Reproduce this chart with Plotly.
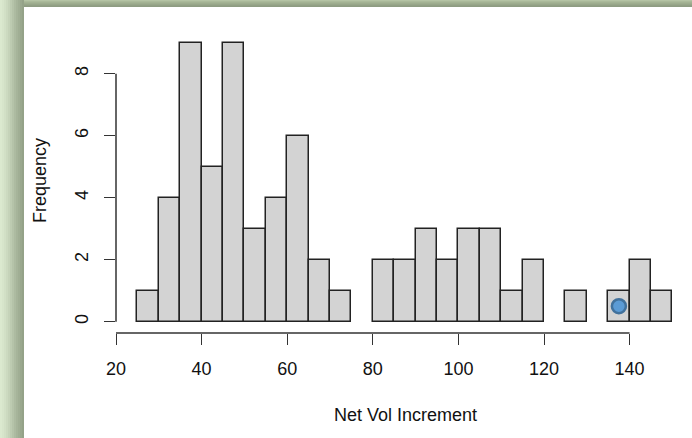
import plotly.graph_objects as go

# ---- data ----
bin_edges = [25, 30, 35, 40, 45, 50, 55, 60, 65, 70, 75, 80, 85, 90, 95, 100,
             105, 110, 115, 120, 125, 130, 135, 140, 145]
counts = [1, 4, 9, 5, 9, 3, 4, 6, 2, 1, 0, 2, 2, 3, 2, 3,
          3, 1, 2, 0, 1, 0, 1, 2, 1]
bin_width = 5
x_ticks = [20, 40, 60, 80, 100, 120, 140]
y_ticks = [0, 2, 4, 6, 8]
point_x = [137.5]
point_y = [0.5]

W, H = 692, 438
L, R, T, B = 116, 10, 20, 105
pw, ph = W - L - R, H - T - B

def px2paper_x(p):
    return (p - L) / pw

def px2paper_y(p):
    return (H - B - p) / ph

bx = [e for e, c in zip(bin_edges, counts) if c > 0]
by = [c for c in counts if c > 0]

fig = go.Figure()
fig.add_trace(go.Bar(
    x=bx, y=by, width=bin_width, offset=0,
    marker=dict(color="#d3d3d3", line=dict(color="#222222", width=1.5)),
    hoverinfo="skip", showlegend=False,
))
fig.add_trace(go.Scatter(
    x=point_x, y=point_y, mode="markers",
    marker=dict(size=14, color="#5b9bd5", line=dict(color="#41719c", width=2.5)),
    showlegend=False, hoverinfo="skip",
))

font = dict(family="Liberation Sans, Arial, sans-serif", size=18, color="#111111")

fig.update_layout(
    width=W, height=H,
    margin=dict(l=L, r=R, t=T, b=B, pad=0),
    paper_bgcolor="white", plot_bgcolor="white",
    font=font,
    bargap=0,
    xaxis=dict(range=[20, 20 + pw / 4.28], tickvals=x_ticks, ticks="outside",
               ticklen=11, tickwidth=1.3, tickcolor="#333333",
               showgrid=False, zeroline=False, showline=False,
               ticklabelstandoff=8, tickfont=font),
    yaxis=dict(range=[-11.3 / 31, (321.7 - T) / 31], tickvals=y_ticks, ticks="outside",
               ticklen=11, tickwidth=1.3, tickcolor="#333333",
               showgrid=False, zeroline=False, showline=False,
               tickangle=-90, ticklabelstandoff=9, tickfont=font),
    annotations=[
        dict(text="Net Vol Increment", xref="paper", yref="paper",
             x=px2paper_x(405), y=px2paper_y(415), showarrow=False,
             xanchor="center", yanchor="middle", font=font),
        dict(text="Frequency", xref="paper", yref="paper",
             x=px2paper_x(40), y=px2paper_y(181), showarrow=False,
             textangle=-90, xanchor="center", yanchor="middle", font=font),
    ],
)

# axis lines (R style: from first to last tick)
fig.add_shape(type="line", xref="x", yref="paper", x0=x_ticks[0], x1=x_ticks[-1],
              y0=0, y1=0, line=dict(color="#333333", width=1.5))
fig.add_shape(type="line", xref="paper", yref="y", x0=0, x1=0,
              y0=y_ticks[0], y1=y_ticks[-1], line=dict(color="#333333", width=1.5))

# decorative green frame (top and left)
top_cols = ["#b4c3a4", "#aab99a", "#a3b293", "#9dac8e", "#97a689", "#919f84", "#8e9c82"]
for i, c in enumerate(top_cols):
    fig.add_shape(type="rect", xref="paper", yref="paper", layer="above",
                  x0=px2paper_x(0), x1=px2paper_x(W), y0=px2paper_y(i), y1=px2paper_y(i + 1),
                  fillcolor=c, line=dict(width=0))
left_cols = ["#dbe9cf", "#d7e5cb", "#d2e0c6", "#ccdac0", "#c5d3b9", "#bdcbb1",
             "#b5c3a9", "#adbba1", "#a6b49a", "#a0ae94", "#9aa88e", "#94a288"]
for i, c in enumerate(left_cols):
    fig.add_shape(type="rect", xref="paper", yref="paper", layer="above",
                  x0=px2paper_x(2 * i), x1=px2paper_x(2 * i + 2), y0=px2paper_y(0), y1=px2paper_y(H),
                  fillcolor=c, line=dict(width=0))

fig.write_html("out.html")
